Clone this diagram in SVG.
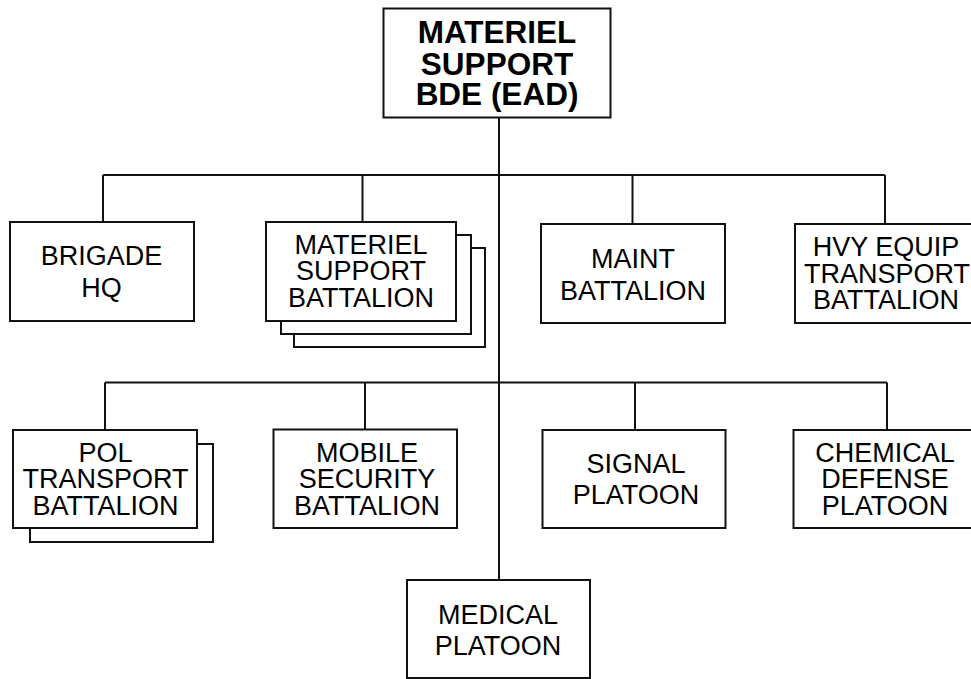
<svg xmlns="http://www.w3.org/2000/svg" width="971" height="679" viewBox="0 0 971 679">
<style>
rect{fill:#fff;stroke:#111;stroke-width:2}
line{stroke:#111;stroke-width:2}
text{font-family:"Liberation Sans",Arial,sans-serif;font-size:27px;text-anchor:middle;fill:#000}
.t{font-weight:bold;font-size:31.5px}
</style>
<rect x="0" y="0" width="971" height="679" style="stroke:none;fill:#fff"/>
<g id="connectors">
<line x1="499" y1="117" x2="499" y2="580"/>
<line x1="103" y1="175" x2="885" y2="175"/>
<line x1="103" y1="175" x2="103" y2="222"/>
<line x1="362.5" y1="175" x2="362.5" y2="222"/>
<line x1="632.5" y1="175" x2="632.5" y2="224"/>
<line x1="885" y1="175" x2="885" y2="224"/>
<line x1="105" y1="382.5" x2="887" y2="382.5"/>
<line x1="105" y1="382.5" x2="105" y2="430"/>
<line x1="365" y1="382.5" x2="365" y2="429"/>
<line x1="635" y1="382.5" x2="635" y2="430"/>
<line x1="887" y1="382.5" x2="887" y2="430"/>
</g>
<g id="materiel-support-bde">
<rect x="383.5" y="8.5" width="227" height="109"/>
<text class="t"><tspan x="497" y="42.5">MATERIEL</tspan><tspan x="497" y="74.5">SUPPORT</tspan><tspan x="497" y="105">BDE (EAD)</tspan></text>
</g>
<g id="brigade-hq">
<rect x="10" y="222" width="184" height="99"/>
<text><tspan x="101.5" y="265">BRIGADE</tspan><tspan x="101.5" y="297">HQ</tspan></text>
</g>
<g id="materiel-support-battalion">
<rect x="294" y="248" width="191" height="99"/>
<rect x="281" y="235" width="190" height="99"/>
<rect x="266" y="222" width="190" height="99"/>
<text><tspan x="361" y="253.5">MATERIEL</tspan><tspan x="361" y="280">SUPPORT</tspan><tspan x="361" y="306.5">BATTALION</tspan></text>
</g>
<g id="maint-battalion">
<rect x="541" y="224" width="184" height="99"/>
<text><tspan x="633" y="267.5">MAINT</tspan><tspan x="633" y="299.5">BATTALION</tspan></text>
</g>
<g id="hvy-equip-transport-battalion">
<rect x="795" y="224" width="178" height="99"/>
<text><tspan x="886" y="256">HVY EQUIP</tspan><tspan x="887" y="282.5">TRANSPORT</tspan><tspan x="886" y="309">BATTALION</tspan></text>
</g>
<g id="pol-transport-battalion">
<rect x="30" y="444" width="183" height="98"/>
<rect x="13" y="430" width="184" height="98"/>
<text><tspan x="105.5" y="461.5">POL</tspan><tspan x="105.5" y="488.3">TRANSPORT</tspan><tspan x="105.5" y="515">BATTALION</tspan></text>
</g>
<g id="mobile-security-battalion">
<rect x="273.5" y="429.5" width="183.5" height="98.5"/>
<text><tspan x="367" y="461.5">MOBILE</tspan><tspan x="367" y="488.3">SECURITY</tspan><tspan x="367" y="515">BATTALION</tspan></text>
</g>
<g id="signal-platoon">
<rect x="542.5" y="430" width="183" height="98"/>
<text><tspan x="636" y="472.5">SIGNAL</tspan><tspan x="636" y="503.5">PLATOON</tspan></text>
</g>
<g id="chemical-defense-platoon">
<rect x="793.5" y="430" width="180" height="98"/>
<text><tspan x="885" y="461.5">CHEMICAL</tspan><tspan x="885" y="488.3">DEFENSE</tspan><tspan x="885" y="515">PLATOON</tspan></text>
</g>
<g id="medical-platoon">
<rect x="407" y="580" width="183" height="98"/>
<text><tspan x="498" y="623.5">MEDICAL</tspan><tspan x="498" y="655">PLATOON</tspan></text>
</g>
</svg>
